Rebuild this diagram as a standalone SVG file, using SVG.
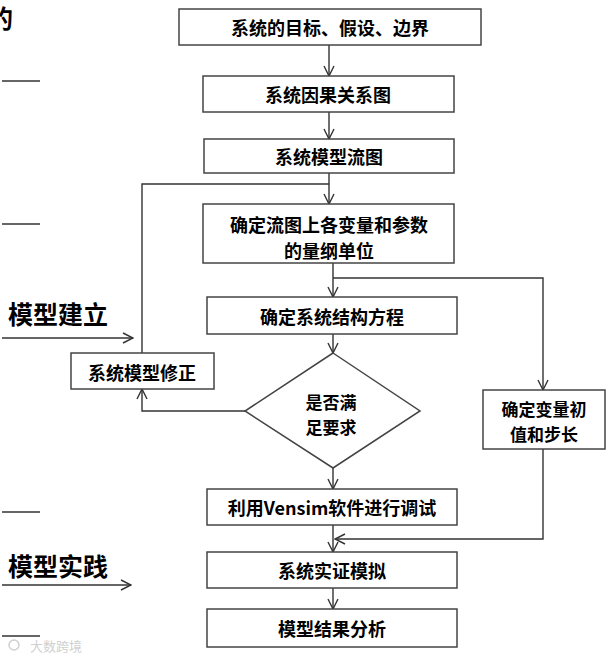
<svg xmlns="http://www.w3.org/2000/svg" width="609" height="656" viewBox="0 0 609 656">
<style>
.box{fill:#fff;stroke:#444;stroke-width:1.5}
.t{font-family:"Noto Sans CJK SC","Liberation Sans",sans-serif;font-weight:bold;font-size:18px;fill:#000;text-anchor:middle;dominant-baseline:central}
.t2{font-size:17px}
.big{font-family:"Noto Sans CJK SC","Liberation Serif",serif;font-weight:bold;font-size:25px;fill:#000}
.c{fill:none;stroke:#333;stroke-width:1.4}
.wm{font-family:"Noto Sans CJK SC",sans-serif;font-size:13px;fill:#d0d0d0}
</style>
<defs>
<marker id="a" viewBox="0 0 12 12" refX="11" refY="6" markerWidth="12" markerHeight="12" markerUnits="userSpaceOnUse" orient="auto">
<path d="M1,1 L11,6 L1,11" fill="none" stroke="#333" stroke-width="1.4"/>
</marker>
</defs>
<rect width="609" height="656" fill="#fff"/>
<g id="side">
<text class="big" x="-12" y="28">的</text>
<line class="c" x1="2" y1="81" x2="40" y2="81"/>
<line class="c" x1="2" y1="224" x2="40" y2="224"/>
<text class="big" x="8" y="324">模型建立</text>
<line class="c" x1="2" y1="338" x2="133" y2="338" marker-end="url(#a)"/>
<line class="c" x1="2" y1="512" x2="40" y2="512"/>
<text class="big" x="8" y="576">模型实践</text>
<line class="c" x1="2" y1="585" x2="131" y2="585" marker-end="url(#a)"/>
<line class="c" x1="2" y1="636" x2="40" y2="636"/>
<text class="wm" x="30" y="651">大数跨境</text>
<circle cx="14" cy="645" r="5" fill="none" stroke="#d0d0d0" stroke-width="1.5"/>
</g>
<g id="connectors">
<line class="c" x1="329" y1="45" x2="329" y2="76" marker-end="url(#a)"/>
<line class="c" x1="329" y1="112" x2="329" y2="139" marker-end="url(#a)"/>
<line class="c" x1="329" y1="173" x2="329" y2="204" marker-end="url(#a)"/>
<line class="c" x1="333" y1="263" x2="333" y2="297" marker-end="url(#a)"/>
<line class="c" x1="333" y1="334" x2="333" y2="353" marker-end="url(#a)"/>
<line class="c" x1="333" y1="468" x2="333" y2="489" marker-end="url(#a)"/>
<line class="c" x1="333" y1="525" x2="333" y2="552" marker-end="url(#a)"/>
<line class="c" x1="333" y1="588" x2="333" y2="609" marker-end="url(#a)"/>
<polyline class="c" points="333,278 543,278 543,390" marker-end="url(#a)"/>
<polyline class="c" points="543,449 543,539 335,539" marker-end="url(#a)"/>
<polyline class="c" points="245,411 142,411 142,389" marker-end="url(#a)"/>
<polyline class="c" points="142,353 142,184 329,184"/>
</g>
<g id="n1"><rect class="box" x="179" y="9" width="302" height="36"/><text class="t" x="330" y="27">系统的目标、假设、边界</text></g>
<g id="n2"><rect class="box" x="203" y="76" width="251" height="36"/><text class="t" x="328" y="94">系统因果关系图</text></g>
<g id="n3"><rect class="box" x="204" y="139" width="250" height="34"/><text class="t" x="329" y="156">系统模型流图</text></g>
<g id="n4"><rect class="box" x="203" y="204" width="251" height="59"/><text class="t" x="329" y="224">确定流图上各变量和参数</text><text class="t" x="329" y="250">的量纲单位</text></g>
<g id="n5"><rect class="box" x="207" y="297" width="250" height="37"/><text class="t" x="332" y="316">确定系统结构方程</text></g>
<g id="n6"><polygon class="box" points="333,353 420,411 333,468 245,411"/><text class="t t2" x="331" y="401">是否满</text><text class="t t2" x="331" y="426">足要求</text></g>
<g id="n7"><rect class="box" x="483" y="390" width="122" height="59"/><text class="t t2" x="544" y="408">确定变量初</text><text class="t t2" x="544" y="433">值和步长</text></g>
<g id="n8"><rect class="box" x="71" y="353" width="143" height="36"/><text class="t" x="142" y="372">系统模型修正</text></g>
<g id="n9"><rect class="box" x="207" y="489" width="250" height="36"/><text class="t" x="332" y="507">利用Vensim软件进行调试</text></g>
<g id="n10"><rect class="box" x="207" y="552" width="250" height="36"/><text class="t" x="332" y="570">系统实证模拟</text></g>
<g id="n11"><rect class="box" x="207" y="609" width="250" height="38"/><text class="t" x="332" y="628">模型结果分析</text></g>
</svg>
